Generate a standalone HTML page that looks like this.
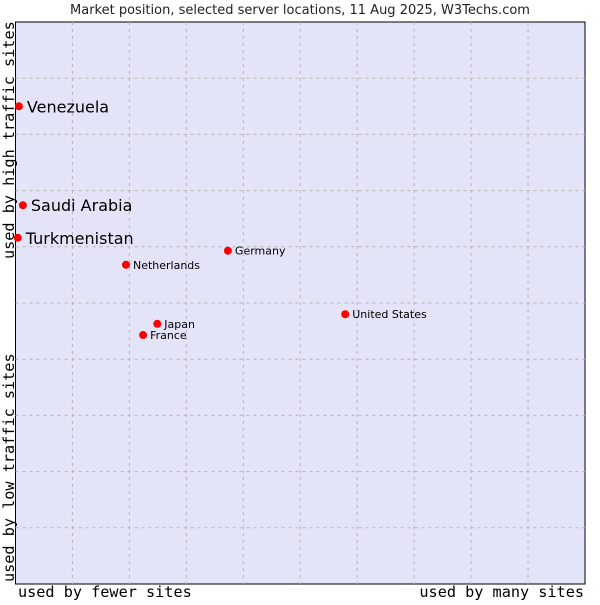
<!DOCTYPE html>
<html><head><meta charset="utf-8"><style>
body{margin:0;background:#fff}
svg text{font-family:"DejaVu Sans","Liberation Sans",sans-serif}
.mono{font-family:"DejaVu Sans Mono","Liberation Mono",monospace}
</style></head><body>
<svg id="chart" width="600" height="600" xmlns="http://www.w3.org/2000/svg">
<text x="300" y="14" font-size="13" fill="#222" text-anchor="middle">Market position, selected server locations, 11 Aug 2025, W3Techs.com</text>
<rect x="15.5" y="22" width="569.5" height="562" fill="#e4e4f8" stroke="#000" stroke-width="1"/>
<g id="grid"></g>
<g id="points"></g>
<text class="mono" x="18" y="597" font-size="15.2" fill="#000">used by fewer sites</text>
<text class="mono" x="584" y="597" font-size="15.2" fill="#000" text-anchor="end">used by many sites</text>
<text class="mono" transform="translate(14,582) rotate(-90)" font-size="15.2" fill="#000">used by low traffic sites</text>
<text class="mono" transform="translate(14,259) rotate(-90)" font-size="15.2" fill="#000">used by high traffic sites</text>
</svg>
<script>
const countries=["Venezuela","Saudi Arabia","Turkmenistan","Germany","Netherlands","United States","Japan","France"];
const xValues=[0.6,1.3,0.4,37.3,19.4,57.9,24.9,22.4];
const yValues=[85.0,67.4,61.6,59.3,56.8,48.0,46.3,44.3];
const bigLabel=[true,true,true,false,false,false,false,false];
const gridTicks=[10,20,30,40,50,60,70,80,90];
const L=15.5,R=585,T=22,B=584;
const sx=v=>L+v/100*(R-L);
const sy=v=>B-v/100*(B-T);
const NS="http://www.w3.org/2000/svg";
const grid=document.getElementById('grid'),pts=document.getElementById('points');
gridTicks.forEach(t=>{
  const v=document.createElementNS(NS,'line');
  v.setAttribute('x1',sx(t));v.setAttribute('x2',sx(t));v.setAttribute('y1',T);v.setAttribute('y2',B);
  v.setAttribute('stroke','#b4b4b4');v.setAttribute('stroke-dasharray','3,4');
  
  
  grid.appendChild(v);
  const h=document.createElementNS(NS,'line');
  h.setAttribute('y1',sy(t));h.setAttribute('y2',sy(t));h.setAttribute('x1',L);h.setAttribute('x2',R);
  h.setAttribute('stroke','#b4b4b4');h.setAttribute('stroke-dasharray','3,4');
  
  
  grid.appendChild(h);
});
countries.forEach((c,i)=>{
  const x=sx(xValues[i]),y=sy(yValues[i]);
  const p=document.createElementNS(NS,'circle');
  p.setAttribute('cx',x);p.setAttribute('cy',y);p.setAttribute('r',4);
  p.setAttribute('fill','#ff0000');
  
  
  pts.appendChild(p);
  const t=document.createElementNS(NS,'text');
  t.setAttribute('x',x+(bigLabel[i]?8:7));
  t.setAttribute('y',y+(bigLabel[i]?6:4));
  t.setAttribute('font-size',bigLabel[i]?16:11);
  t.setAttribute('fill','#000');
  t.textContent=c;
  
  
  pts.appendChild(t);
});
</script>
</body></html>
